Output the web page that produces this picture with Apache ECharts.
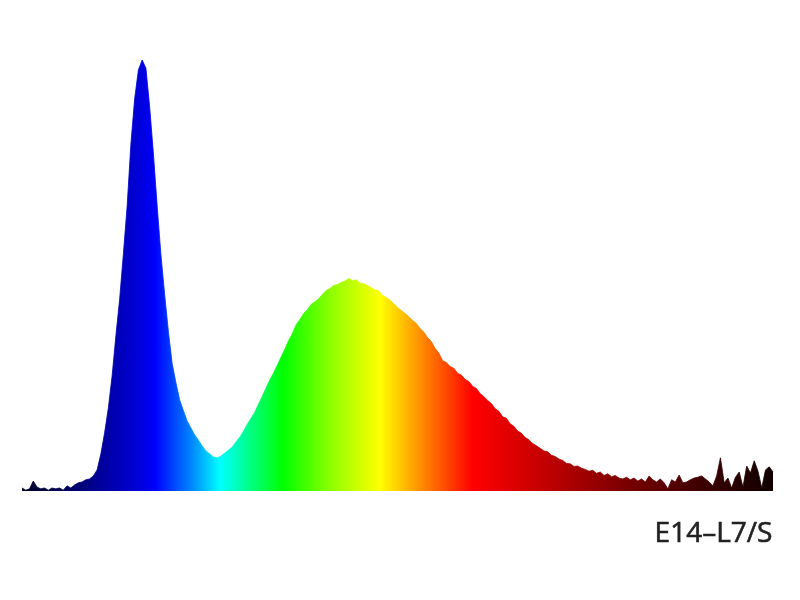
<!DOCTYPE html>
<html>
<head>
<meta charset="utf-8">
<script src="https://cdn.jsdelivr.net/npm/echarts@6/dist/echarts.min.js"></script>
<style>html,body{margin:0;padding:0;background:#fff}#c{width:800px;height:600px}</style>
</head>
<body>
<div id="c"></div>
<script>
// Wavelength range (nm) and sampling step
const wlStart = 380;
const wlEnd = 780;
const wlStep = 2;

// Relative spectral intensity (%), one value per 2 nm from 380 to 780 nm
const intensity = [
  0.7,0.2,0.5,2.3,0.9,0.5,0.7,0.2,0.7,0.5,            // 380-398
  0.7,0.2,1.2,0.7,1.4,1.9,2.1,2.6,2.8,3.5,            // 400-418
  4.9,8.6,13.5,19.3,26.7,36.0,44.5,55.0,66.1,80.5,    // 420-438
  91.0,97.7,100,98.1,89.1,78.2,66.1,54.8,45.5,36.9,   // 440-458
  29.5,25.1,21.1,18.6,16.2,14.6,13.0,11.8,10.4,9.3,   // 460-478
  8.6,7.9,7.7,8.1,8.8,9.5,10.2,11.4,12.5,13.9,        // 480-498
  15.5,16.9,18.3,20.2,22.0,23.9,25.8,27.4,29.2,31.1,  // 500-518
  32.9,34.9,36.5,38.6,39.8,41.2,42.1,43.3,43.9,44.6,  // 520-538
  45.6,46.5,47.0,47.7,47.9,48.4,48.7,49.3,48.8,49.0,  // 540-558
  48.2,48.1,47.7,47.2,46.7,46.4,45.4,44.9,44.3,43.5,  // 560-578
  42.6,41.9,41.2,40.5,39.6,38.9,37.7,36.9,35.6,34.7,  // 580-598
  33.1,32.0,30.3,29.8,28.9,28.5,27.3,26.9,25.9,25.4,  // 600-618
  24.3,23.8,22.6,21.9,21.0,20.3,19.1,18.5,17.2,16.9,  // 620-638
  15.6,15.0,13.9,13.4,12.4,11.9,11.0,10.5,9.9,9.3,    // 640-658
  9.1,8.3,8.0,7.4,7.1,6.4,6.3,5.7,5.8,5.3,            // 660-678
  5.0,4.6,4.8,4.1,4.4,3.6,4.0,3.3,3.6,3.0,            // 680-698
  2.8,3.2,2.6,3.0,2.3,2.8,2.1,3.5,2.6,2.1,            // 700-718
  2.8,1.9,0.5,2.6,2.1,3.7,1.9,2.1,2.6,3.0,            // 720-738
  3.2,3.5,2.8,2.1,1.2,3.5,7.7,1.9,3.0,0.7,            // 740-758
  3.2,4.4,0.9,5.8,4.2,7.0,4.6,0.7,4.9,5.6,            // 760-778
  4.4                                                 // 780
];

const labelText = 'E14–L7/S';

const points = intensity.map((v, i) => [wlStart + i * wlStep, v]);

// spectral colour stops (wavelength nm -> colour)
const stopNm = [380, 400, 413.6, 430, 444, 451, 460, 469.5, 485.5, 500, 519, 545, 570.7, 595, 620, 650, 698, 740, 780];
const stopColor = ['#000028','#000050','#000080','#0000b4','#0000e0','#0000ff','#0040ff','#0080ff','#00ffff','#00ff90','#00ff00','#90ff00','#ffff00','#ff8000','#ff0000','#d00000','#800000','#400000','#100000'];
const stops = stopNm.map((nm, i) => ({ offset: (nm - wlStart) / (wlEnd - wlStart), color: stopColor[i] }));
const grad = () => new echarts.graphic.LinearGradient(0, 0, 1, 0, stops);

const chart = echarts.init(document.getElementById('c'), null, { renderer: 'canvas' });
chart.setOption({
  animation: false,
  backgroundColor: '#ffffff',
  title: {
    text: labelText,
    right: 27,
    top: 520,
    padding: 0,
    textStyle: { fontFamily: 'Open Sans', fontSize: 28, fontWeight: 'normal', color: '#222222',
                 textBorderColor: '#222222', textBorderWidth: 0.6 }
  },
  grid: { left: 22, right: 27, top: 60, bottom: 109 },
  xAxis: { type: 'value', min: wlStart, max: wlEnd, show: false },
  yAxis: { type: 'value', min: 0, max: 100, show: false },
  series: [{
    type: 'line',
    data: points,
    showSymbol: false,
    smooth: false,
    lineStyle: { width: 0.8, color: grad() },
    areaStyle: { color: grad(), opacity: 1 }
  }]
});
</script>
</body>
</html>
